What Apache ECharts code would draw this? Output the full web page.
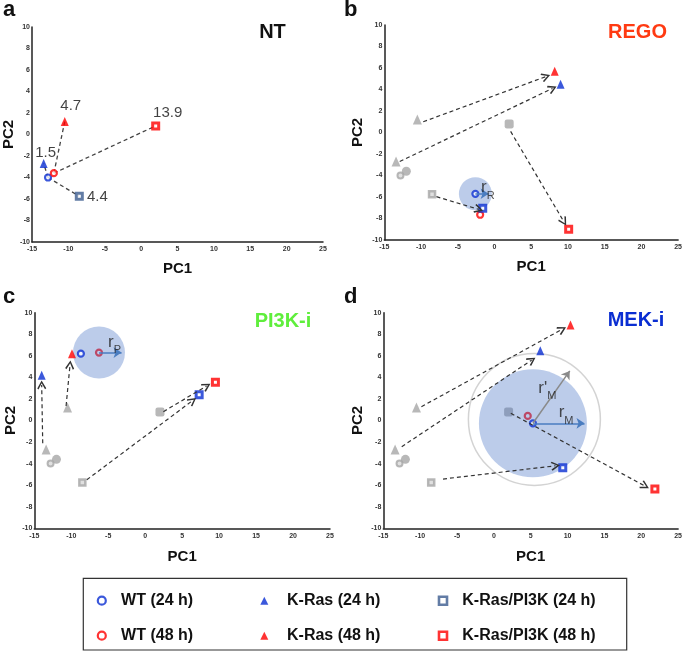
<!DOCTYPE html>
<html><head><meta charset="utf-8">
<script src="https://cdn.jsdelivr.net/npm/echarts@6/dist/echarts.min.js"></script>
<style>html,body{margin:0;padding:0;background:#fff}#c{width:685px;height:651px}</style>
</head><body><div id="c"></div><script>
const FONT = 'Arial, "Liberation Sans", sans-serif';

// ---- data ----
const panelTitles = ['NT', 'REGO', 'PI3K-i', 'MEK-i'];
const panelLetters = ['a', 'b', 'c', 'd'];
const groupNames = ['WT (24 h)', 'WT (48 h)', 'K-Ras (24 h)', 'K-Ras (48 h)', 'K-Ras/PI3K (24 h)', 'K-Ras/PI3K (48 h)'];
// [PC1, PC2] in order: WT24, WT48, KRas24, KRas48, KRasPI3K24, KRasPI3K48
const ntPoints   = [[-12.8, -4.0], [-12.0, -3.6], [-13.4, -2.7], [-10.5, 1.2], [-8.5, -5.75], [2.0, 0.8]];
const regoPoints = [[-2.6, -5.7], [-1.95, -7.65], [9.0, 4.5], [8.2, 5.7], [-1.6, -7.05], [10.1, -9.0]];
const pi3kPoints = [[-8.7, 6.2], [-6.25, 6.3], [-14.0, 4.2], [-9.9, 6.2], [7.3, 2.4], [9.5, 3.55]];
const mekPoints  = [[5.3, -0.26], [4.6, 0.42], [6.3, 6.47], [10.4, 8.86], [9.35, -4.38], [21.85, -6.35]];
// NT distances (labels) and links (from index, to index)
const ntLinks = [[0, 2], [0, 4], [1, 3], [1, 5]];
const ntDistanceLabels = [[2, '1.5'], [3, '4.7'], [5, '13.9'], [4, '4.4']];
// dashed arrows NT -> treatment: [[fromX, fromY], [toX, toY]]
const regoArrows = [[[-9.7, 1.0], [7.0, 5.2]], [[-12.9, -2.7], [7.9, 4.1]], [[2.2, 0.1], [9.45, -8.3]], [[-7.9, -5.97], [-2.15, -7.15]]];
const pi3kArrows = [[[-13.86, -2.1], [-14.0, 3.3]], [[-10.7, 1.35], [-10.17, 5.15]], [[2.46, 0.82], [8.3, 3.2]], [[-7.9, -5.5], [6.4, 1.84]]];
const mekArrows  = [[[-9.83, 1.28], [9.26, 8.46]], [[-12.5, -2.43], [5.13, 5.6]], [[2.3, 0.67], [20.5, -6.08]], [[-6.9, -5.43], [8.37, -4.2]]];
// radius annotations
const regoRadius = {center: 0, end: [-0.8, -5.7], label: [-0.9, -5.35], sub: 'R'};
const pi3kRadius = {center: 1, end: [-3.2, 6.3], label: [-4.15, 7.05], sub: 'P'};
const mekRadius  = {center: 0, end: [12.3, -0.26], label: [9.8, 0.5], sub: 'M'};
const mekRadiusPrime = {end: [10.3, 4.6], label: [7.26, 2.78]};
const mekRingCenter = [5.5, 0.1];
const xTicks = {min: -15, max: 25, interval: 5};
const yTicks = {min: -10, max: 10, interval: 2};

// ---- styles ----
const BLUE = '#0a2ed2', RED = '#ff0000', SLATE = '#3b5b8e', GRAY = '#a6a6a6';
const CHEVRON = 'path://M50,0 L100,78 L86,88 L50,28 L14,88 L0,78 Z';
const grids = [
  {left: 31, top: 27, width: 292, height: 215},
  {left: 384.3, top: 25, width: 295.7, height: 215},
  {left: 34.3, top: 312.7, width: 295.7, height: 215.6},
  {left: 383.3, top: 312.7, width: 296.7, height: 215.6}
];
const xNameGap = [19, 19, 21, 21];
const yNameGap = [14, 19, 15, 18];
const shadeSize = [0, 33, 52, 108];

const panels = [ntPoints, regoPoints, pi3kPoints, mekPoints];
const arrowsByPanel = [null, regoArrows, pi3kArrows, mekArrows];
const radiusByPanel = [null, regoRadius, pi3kRadius, mekRadius];

function markerProps(k, color) {
  if (k < 2) return {symbol: 'circle', symbolSize: 6, itemStyle: {color: '#fff', borderColor: color, borderWidth: 2.2}};
  if (k < 4) return {symbol: 'triangle', symbolSize: [8, 9], itemStyle: {color: color}};
  return {symbol: 'rect', symbolSize: 6, itemStyle: {color: '#fff', borderColor: color, borderWidth: 3}};
}
function grayProps(k) {
  if (k === 0) return {symbol: 'circle', symbolSize: 6, itemStyle: {color: '#d8d8d8', borderColor: GRAY, borderWidth: 2}};
  if (k === 1) return {symbol: 'circle', symbolSize: 9, itemStyle: {color: GRAY}};
  if (k < 4) return {symbol: 'triangle', symbolSize: [9, 10], itemStyle: {color: GRAY}};
  if (k === 4) return {symbol: 'rect', symbolSize: 6, itemStyle: {color: '#d8d8d8', borderColor: GRAY, borderWidth: 2.5}};
  return {symbol: 'roundRect', symbolSize: 9, itemStyle: {color: GRAY}};
}

const series = [];
panels.forEach((pts, p) => {
  const colors = [BLUE, RED, BLUE, RED, p === 0 ? SLATE : BLUE, RED];
  const ax = {xAxisIndex: p, yAxisIndex: p};
  if (p > 0) {
    series.push(Object.assign({type: 'scatter', name: 'NT-' + p, z: 1,
      data: ntPoints.map((v, k) => Object.assign({value: v}, grayProps(k)))}, ax));
    series.push(Object.assign({type: 'scatter', name: 'shade-' + p, z: 2, symbol: 'circle',
      symbolSize: shadeSize[p], itemStyle: {color: 'rgba(68,114,196,0.45)'},
      data: [{value: pts[radiusByPanel[p].center]}]}, ax));
  }
  if (p === 3) {
    series.push(Object.assign({type: 'scatter', name: 'ring', z: 2, symbol: 'circle', symbolSize: 132,
      itemStyle: {color: 'rgba(0,0,0,0)', borderColor: '#c8c8c8', borderWidth: 1.5},
      data: [{value: mekRingCenter}]}, ax));
  }
  groupNames.forEach((name, k) => {
    const mp = markerProps(k, colors[k]);
    series.push(Object.assign({type: 'scatter', name: name, z: (k === 1 && p > 0) ? 1 : 3,
      symbol: mp.symbol, symbolSize: mp.symbolSize, symbolKeepAspect: true, itemStyle: mp.itemStyle,
      data: [{value: pts[k]}]}, ax));
  });
  if (p === 0) {
    series.push(Object.assign({type: 'lines', coordinateSystem: 'cartesian2d', z: 2, symbol: ['none', 'none'],
      lineStyle: {color: '#444', width: 1.3, type: [4, 3], opacity: 1},
      data: ntLinks.map(l => ({coords: [ntPoints[l[0]], ntPoints[l[1]]]}))}, ax));
    series.push(Object.assign({type: 'scatter', name: 'dist', z: 5, symbolSize: 0,
      label: {show: true, position: 'inside', color: '#111', fontSize: 15, fontFamily: FONT, formatter: p => p.data.txt},
      data: ntDistanceLabels.map((d, i) => ({value: ntPoints[d[0]], txt: d[1],
        label: {offset: [[2, -11], [6, -16], [12, -13], [18, 1]][i]}}))}, ax));
  } else {
    series.push(Object.assign({type: 'lines', coordinateSystem: 'cartesian2d', z: 4,
      symbol: ['none', CHEVRON], symbolSize: 9,
      lineStyle: {color: '#333', width: 1.2, type: [4, 3], opacity: 1},
      data: arrowsByPanel[p].map(a => ({coords: a}))}, ax));
    const r = radiusByPanel[p];
    const rl = [{coords: [pts[r.center], r.end], lineStyle: {color: '#4a7dc0'}}];
    if (p === 3) rl.push({coords: [pts[r.center], mekRadiusPrime.end], lineStyle: {color: '#8a8a8a'}});
    series.push(Object.assign({type: 'lines', coordinateSystem: 'cartesian2d', z: 4,
      symbol: ['none', 'arrow'], symbolSize: 8,
      lineStyle: {width: 1.5, opacity: 1}, data: rl}, ax));
    const lab = [{value: r.label, txt: '{r|r}{s|' + r.sub + '}'}];
    if (p === 3) lab.push({value: mekRadiusPrime.label, txt: "{r|r'}{s|M}"});
    series.push(Object.assign({type: 'scatter', name: 'rlab-' + p, z: 5, symbolSize: 0,
      label: {show: true, position: 'inside', formatter: q => q.data.txt,
        rich: {r: {fontSize: 17, fontFamily: FONT, color: '#222', verticalAlign: 'top', lineHeight: 22},
               s: {fontSize: 11, fontFamily: FONT, color: '#222', verticalAlign: 'bottom', lineHeight: 22}}},
      data: lab}, ax));
  }
});

const legendCols = [{c: 100.7, t: 120, bw: 2.2}, {c: 264.3, t: 287, bw: 0}, {c: 441.7, t: 461, bw: 2.6}];
const legendRows = [596.7, 631.7];
const LEG_ICON = 8;
const legends = [];
groupNames.forEach((name, k) => {
  const col = legendCols[Math.floor(k / 2)], row = legendRows[k % 2];
  legends.push({data: [name], left: col.c - LEG_ICON / 2, top: row - LEG_ICON / 2,
    itemWidth: LEG_ICON, itemHeight: LEG_ICON, symbolKeepAspect: true,
    padding: 0, selectedMode: false,
    itemStyle: {borderWidth: col.bw},
    textStyle: {fontSize: 16, fontWeight: 'bold', color: '#111', fontFamily: FONT,
      padding: [0, 0, 0, col.t - (col.c + LEG_ICON / 2) - 5]}});
});

const titlePos = [[272.5, 32.5, '#111'], [637.5, 32, '#ff3a12'], [283, 321, '#5fee3c'], [636, 320, BLUE]];
const letterPos = [[3, 10.4], [344, 10.4], [3, 297.4], [344, 297.4]];
const graphic = [
  {type: 'rect', shape: {x: 83.3, y: 578.3, width: 543.4, height: 71.7}, style: {fill: 'none', stroke: '#333', lineWidth: 1.2}}
];
panelTitles.forEach((t, i) => graphic.push({type: 'text', x: titlePos[i][0], y: titlePos[i][1],
  style: {text: t, font: 'bold 20px ' + FONT, fill: titlePos[i][2], align: 'center', verticalAlign: 'middle', textAlign: 'center', textVerticalAlign: 'middle'}}));
panelLetters.forEach((t, i) => graphic.push({type: 'text', x: letterPos[i][0], y: letterPos[i][1],
  style: {text: t, font: 'bold 22px ' + FONT, fill: '#111', align: 'left', verticalAlign: 'middle', textAlign: 'left', textVerticalAlign: 'middle'}}));

const axisCommon = {
  type: 'value', nameLocation: 'middle',
  nameTextStyle: {fontSize: 15, fontWeight: 'bold', color: '#111', fontFamily: FONT},
  axisLine: {onZero: false, lineStyle: {color: '#222', width: 1.5}},
  axisTick: {show: false}, splitLine: {show: false}
};
const option = {
  animation: false,
  backgroundColor: '#fff',
  grid: grids,
  xAxis: grids.map((g, i) => Object.assign({}, axisCommon, {gridIndex: i, min: xTicks.min, max: xTicks.max, interval: xTicks.interval,
    name: 'PC1', nameGap: xNameGap[i],
    axisLabel: {fontSize: 7, fontWeight: 'bold', color: '#333', margin: 4, fontFamily: FONT}})),
  yAxis: grids.map((g, i) => Object.assign({}, axisCommon, {gridIndex: i, min: yTicks.min, max: yTicks.max, interval: yTicks.interval,
    name: 'PC2', nameGap: yNameGap[i], nameRotate: 90,
    axisLabel: {fontSize: 7, fontWeight: 'bold', color: '#333', margin: 2, fontFamily: FONT}})),
  legend: legends,
  graphic: graphic,
  series: series
};
const chart = echarts.init(document.getElementById('c'));
chart.setOption(option);
</script></body></html>
